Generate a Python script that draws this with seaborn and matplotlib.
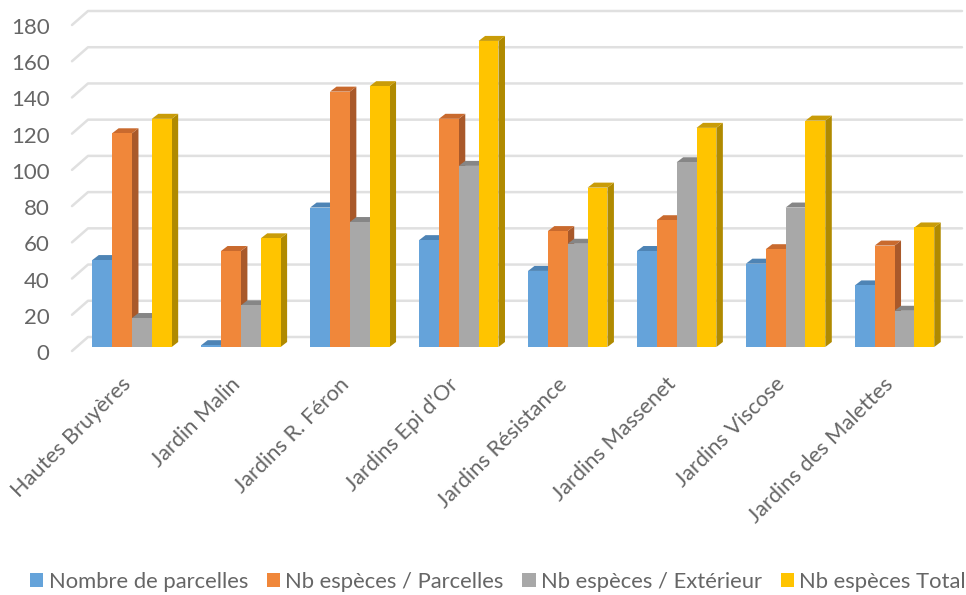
import pandas as pd
import seaborn as sns
import matplotlib.pyplot as plt
from matplotlib.patches import Polygon, Patch
from matplotlib.transforms import Affine2D

jardins = ['Hautes Bruyères', 'Jardin Malin', 'Jardins R. Féron', 'Jardins Epi d’Or',
           'Jardins Résistance', 'Jardins Massenet', 'Jardins Viscose', 'Jardins des Malettes']
nb_parcelles = [48, 1, 77, 59, 42, 53, 46, 34]
nb_parcelles_especes = [118, 53, 141, 126, 64, 70, 54, 56]
nb_exterieur = [16, 23, 69, 100, 57, 102, 77, 20]
nb_total = [126, 60, 144, 169, 88, 121, 125, 66]
series_names = ['Nombre de parcelles', 'Nb espèces / Parcelles', 'Nb espèces / Extérieur', 'Nb espèces Total']
front_colors = ['#65A3DA', '#F0873A', '#A8A8A8', '#FFC400']
top_colors = ['#4E84B5', '#C96A2E', '#868686', '#C99C08']
side_colors = ['#44739E', '#A9592A', '#747474', '#B08A00']
y_ticks = list(range(0, 181, 20))

sns.set_theme(style='white')
plt.rcParams['font.family'] = ['Lato', 'DejaVu Sans']
grey = '#666666'

df = pd.DataFrame({'jardin': jardins, series_names[0]: nb_parcelles, series_names[1]: nb_parcelles_especes,
                   series_names[2]: nb_exterieur, series_names[3]: nb_total})
df_long = df.melt(id_vars='jardin', var_name='serie', value_name='valeur')

W, H = 966, 595
fig = plt.figure(figsize=(W / 100, H / 100), dpi=100)
ax = fig.add_axes([77.5 / W, (H - 347) / H, (949 - 77.5) / W, 326 / H])

sns.barplot(df_long, x='jardin', y='valeur', hue='serie', hue_order=series_names, palette=front_colors,
            width=0.729, gap=0, saturation=1, legend=False, ax=ax)
ax.set_xlim(-0.5, 7.5)
ax.set_ylim(0, 180)
ax.set_xlabel('')
ax.set_ylabel('')
sns.despine(ax=ax, left=True, bottom=True, top=True, right=True)

# px to data units, the fake 3D is only an offset
px_x = 8 / (949 - 77.5)
px_y = 180 / 326
dx, dy = 6.5 * px_x, 5 * px_y

# back wall grid with the short diagonal on the left
for v in y_ticks:
    xs = [-0.5 - 5.5 * px_x, -0.5 + 10.5 * px_x, 7.5 + 13 * px_x]
    ys = [v - 4 * px_y, v + 10 * px_y, v + 10 * px_y]
    ax.plot(xs, ys, color='#E0E0E0', lw=1.8, clip_on=False, zorder=0.5)

# sides and tops of the bars, painted left to right
bars = [p for c in ax.containers for p in c]
bars = sorted(bars, key=lambda p: p.get_x())
for i, bar in enumerate(bars):
    x0, x1, h = bar.get_x(), bar.get_x() + bar.get_width(), bar.get_height()
    k = front_colors.index(next(c for c in front_colors
                                if plt.matplotlib.colors.same_color(c, bar.get_facecolor())))
    z = 2 + i * 0.01
    bar.set_zorder(z + 0.002)
    bar.set_edgecolor('none')
    ax.add_patch(Polygon([(x1, 0), (x1 + dx, dy), (x1 + dx, h + dy), (x1, h)], closed=True,
                         fc=side_colors[k], ec='none', zorder=z, clip_on=False))
    ax.add_patch(Polygon([(x0, h), (x1, h), (x1 + dx, h + dy), (x0 + dx, h + dy)], closed=True,
                         fc=top_colors[k], ec='none', zorder=z + 0.001, clip_on=False))

ax.set_yticks(y_ticks)
ax.set_yticklabels(y_ticks)
ax.tick_params(axis='y', length=0, pad=20, labelsize=16, labelcolor=grey)
for lab in ax.get_yticklabels():
    lab.set_transform(lab.get_transform() + Affine2D().translate(0, -5))

ax.tick_params(axis='x', length=0, pad=18, labelsize=15.7, labelcolor=grey)
ax.set_xticks(range(len(jardins)))
ax.set_xticklabels(jardins, rotation=45, ha='right', rotation_mode='anchor')
for lab in ax.get_xticklabels():
    lab.set_transform(lab.get_transform() + Affine2D().translate(-11, -2))

handles = [Patch(fc=c, ec='none') for c in front_colors]
ax.legend(handles, series_names, ncol=4, loc='center', bbox_to_anchor=(498 / W, (H - 582) / H),
          bbox_transform=fig.transFigure, frameon=False, fontsize=15.8, labelcolor=grey,
          handlelength=0.6, handleheight=0.6, handletextpad=0.25, columnspacing=0.85, borderpad=0, borderaxespad=0)

fig.savefig('out.png', dpi=100)
